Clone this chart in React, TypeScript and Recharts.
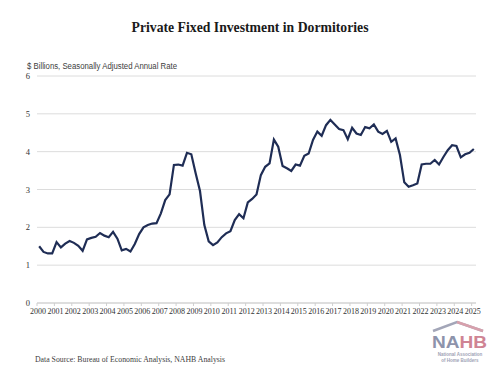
import React from 'react';
import { LineChart, Line, XAxis, YAxis, CartesianGrid } from 'recharts';

// year labels on the x axis (one per Q1)
const years = [
    '2000', '2001', '2002', '2003', '2004', '2005', '2006', '2007', '2008', '2009',
    '2010', '2011', '2012', '2013', '2014', '2015', '2016', '2017', '2018', '2019',
    '2020', '2021', '2022', '2023', '2024', '2025',
];

// quarterly values, 2000 Q1 .. 2025 Q1, $ billions SAAR
const investment = [
    1.50, 1.35, 1.31, 1.31, 1.61, 1.47, 1.57, 1.64, 1.59, 1.51,
    1.38, 1.68, 1.72, 1.75, 1.85, 1.78, 1.74, 1.88, 1.70, 1.39,
    1.43, 1.36, 1.56, 1.82, 2.00, 2.06, 2.10, 2.11, 2.37, 2.72,
    2.87, 3.65, 3.66, 3.63, 3.97, 3.93, 3.43, 2.96, 2.06, 1.63,
    1.53, 1.60, 1.74, 1.84, 1.90, 2.19, 2.35, 2.24, 2.66, 2.75,
    2.87, 3.38, 3.60, 3.69, 4.32, 4.13, 3.62, 3.56, 3.49, 3.66,
    3.63, 3.89, 3.95, 4.31, 4.53, 4.42, 4.70, 4.84, 4.72, 4.60,
    4.57, 4.33, 4.63, 4.48, 4.44, 4.65, 4.62, 4.72, 4.53, 4.47,
    4.55, 4.26, 4.35, 3.91, 3.19, 3.07, 3.11, 3.16, 3.66, 3.68,
    3.68, 3.78, 3.66, 3.86, 4.04, 4.17, 4.15, 3.85, 3.93, 3.97,
    4.07,
];

const yTicks = [0, 1, 2, 3, 4, 5, 6];

const data = investment.map((v, i) => ({ q: i, value: v }));
const xTicks = years.map((_, k) => k * 4 - 0.5);

const serif = '"Liberation Serif", "Times New Roman", serif';
const sans = '"Liberation Sans", Arial, sans-serif';

const App: React.FC = () => {
    return (
        <div style={{ position: 'absolute', left: 0, top: 0, width: 500, height: 383, background: '#fff' }}>
            <LineChart
                width={500}
                height={383}
                data={data}
                margin={{ top: 76, right: 24, left: 7, bottom: 60 }}
            >
                <CartesianGrid vertical={false} stroke="#dcdcdc" strokeWidth={1} />
                <XAxis
                    type="number"
                    dataKey="q"
                    domain={[-0.5, 100.5]}
                    ticks={xTicks}
                    interval={0}
                    tickFormatter={(t: number) => years[Math.round((t + 0.5) / 4)]}
                    height={20}
                    stroke="#cfcfcf"
                    tickSize={3}
                    tickMargin={2}
                    tick={{ fill: '#333', fontSize: 8, fontFamily: serif, dx: 1 }}
                />
                <YAxis
                    domain={[0, 6]}
                    ticks={yTicks}
                    width={30}
                    axisLine={false}
                    tickLine={false}
                    tickMargin={1}
                    tick={{ fill: '#333', fontSize: 8.5, fontFamily: serif }}
                />
                <Line
                    type="linear"
                    dataKey="value"
                    stroke="#1f2d55"
                    strokeWidth={2.2}
                    dot={false}
                    isAnimationActive={false}
                />
            </LineChart>
            <svg
                width={500}
                height={383}
                style={{ position: 'absolute', left: 0, top: 0, pointerEvents: 'none' }}
            >
                <text
                    x={250}
                    y={32}
                    textAnchor="middle"
                    fontFamily={serif}
                    fontWeight="bold"
                    fontSize={15.5}
                    fill="#1a1a1a"
                    textLength={237}
                    lengthAdjust="spacingAndGlyphs"
                >
                    Private Fixed Investment in Dormitories
                </text>
                <text
                    x={27}
                    y={69}
                    fontFamily={sans}
                    fontSize={8.5}
                    fill="#404040"
                    textLength={150}
                    lengthAdjust="spacingAndGlyphs"
                >
                    $ Billions, Seasonally Adjusted Annual Rate
                </text>
                <text
                    x={35}
                    y={362}
                    fontFamily={serif}
                    fontSize={8.5}
                    fill="#404040"
                    textLength={190}
                    lengthAdjust="spacingAndGlyphs"
                >
                    Data Source: Bureau of Economic Analysis, NAHB Analysis
                </text>
                {/* NAHB logo */}
                <polyline points="433,331 457,322 483,331" fill="none" stroke="#a3a6b8" strokeWidth={2.5} />
                <polyline points="457,322 483,331" fill="none" stroke="#d7a0ac" strokeWidth={2.5} />
                <text x={432} y={348} fontFamily={sans} fontWeight="bold" fontSize={16} textLength={55} lengthAdjust="spacingAndGlyphs">
                    <tspan fill="#8d93ab">NA</tspan>
                    <tspan fill="#cf8494">HB</tspan>
                </text>
                <text x={460} y={356} textAnchor="middle" fontFamily={sans} fontWeight="bold" fontSize={4.5} fill="#a0a3b5">
                    National Association
                </text>
                <text x={460} y={361.5} textAnchor="middle" fontFamily={sans} fontWeight="bold" fontSize={4.5} fill="#a0a3b5">
                    of Home Builders
                </text>
            </svg>
        </div>
    );
};

export default App;
